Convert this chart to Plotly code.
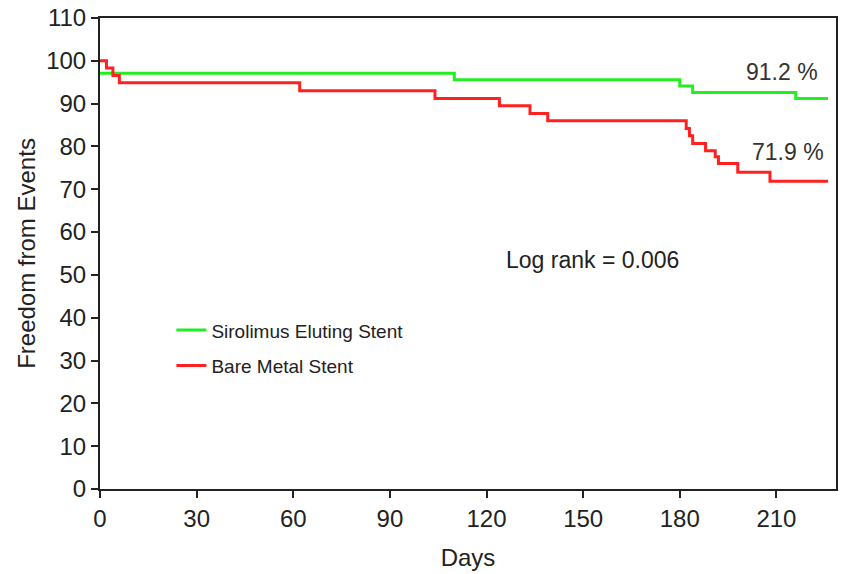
import plotly.graph_objects as go

# Kaplan-Meier style step data: (day, freedom from events %)
ses_days = [0, 110, 180, 184, 216, 226]
ses_surv = [97.1, 95.6, 94.1, 92.6, 91.2, 91.2]

bms_days = [0, 2, 4, 6, 62, 104, 124, 133.5, 139, 182, 183, 184, 188, 191, 192, 198, 208, 226]
bms_surv = [100, 98.3, 96.6, 94.9, 93.0, 91.2, 89.5, 87.7, 86.0, 84.2, 82.5, 80.7,
            79.0, 77.6, 76.0, 74.0, 71.9, 71.9]

x_ticks = [0, 30, 60, 90, 120, 150, 180, 210]
y_ticks = list(range(0, 111, 10))

FONT = "Liberation Sans, Arial, Helvetica, sans-serif"
GREEN = "#22ee22"
RED = "#ff2020"

fig = go.Figure()
fig.add_trace(go.Scatter(
    x=ses_days, y=ses_surv, mode="lines", line=dict(shape="hv", color=GREEN, width=3),
    name="Sirolimus Eluting Stent", legend="legend", showlegend=True))
fig.add_trace(go.Scatter(
    x=bms_days, y=bms_surv, mode="lines", line=dict(shape="hv", color=RED, width=3),
    name="Bare Metal Stent", legend="legend2", showlegend=True))

fig.add_annotation(x=211.8, y=97.4, text=f"{ses_surv[-1]} %", showarrow=False,
                   font=dict(family=FONT, size=23, color="#333333"))
fig.add_annotation(x=213.7, y=78.7, text=f"{bms_surv[-1]} %", showarrow=False,
                   font=dict(family=FONT, size=23, color="#333333"))
fig.add_annotation(x=152.8, y=53.5, text="Log rank = 0.006", showarrow=False,
                   font=dict(family=FONT, size=23, color="#222222"))

legend_common = dict(
    xanchor="left", yanchor="middle", bgcolor="rgba(0,0,0,0)",
    font=dict(family=FONT, size=19, color="#222222"), itemwidth=30,
)

fig.update_layout(
    width=848, height=574,
    margin=dict(l=100, r=12, t=18, b=85),
    paper_bgcolor="white", plot_bgcolor="white",
    font=dict(family=FONT, size=24, color="#222222"),
    showlegend=True,
    legend=dict(x=0.097, y=0.337, **legend_common),
    legend2=dict(x=0.097, y=0.262, **legend_common),
    xaxis=dict(
        range=[0, 228.5], tickvals=x_ticks, showgrid=False, zeroline=False,
        showline=True, linecolor="#222222", linewidth=2, mirror=True,
        ticks="outside", ticklen=7, tickwidth=2, tickcolor="#222222", automargin=False,
        title=dict(text="Days", font=dict(family=FONT, size=24), standoff=18),
    ),
    yaxis=dict(
        range=[0, 110], tickvals=y_ticks, showgrid=False, zeroline=False,
        showline=True, linecolor="#222222", linewidth=2, mirror=True,
        ticks="outside", ticklen=7, tickwidth=2, tickcolor="#222222", automargin=False,
        title=dict(text="Freedom from Events", font=dict(family=FONT, size=24), standoff=4),
    ),
)

fig.write_html("out.html")
